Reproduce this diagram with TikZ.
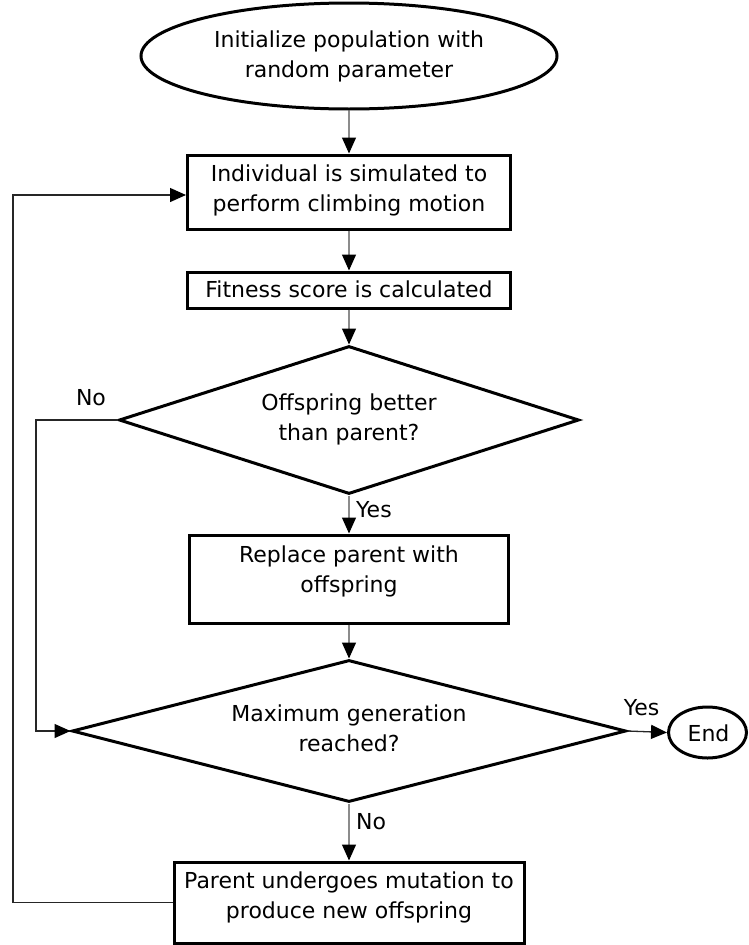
\documentclass[tikz,border=0pt]{standalone}
\usepackage{fontspec}
\setmainfont{DejaVu Sans}
\usetikzlibrary{shapes.geometric,arrows.meta}
\newcommand\Ls{\rule[-6pt]{0pt}{23pt}}
\begin{document}
\begin{tikzpicture}[x=1pt,y=-1pt,
 shapeline/.style={draw=black,line width=3pt,inner sep=0pt},
 boxnode/.style={shapeline,rectangle},
 ellnode/.style={shapeline,ellipse},
 dianode/.style={shapeline,diamond,aspect=3},
 txt/.style={inner sep=0pt,align=center,font=\fontsize{22pt}{30pt}\selectfont},
 flow/.style={draw=black!45,line width=1.3pt,-{Triangle[width=14pt,length=16pt,color=black]}},
 loopline/.style={draw=black!85,line width=1.3pt},
 loopflow/.style={loopline,-{Triangle[width=14pt,length=16pt,color=black]}},
]
\useasboundingbox (0,0) rectangle (748,945);
% shapes
\node[ellnode,minimum width=416pt,minimum height=106pt] (start) at (349,56) {};
\node[boxnode,minimum width=323pt,minimum height=74pt] (b1) at (349,192) {};
\node[boxnode,minimum width=323pt,minimum height=36pt] (b2) at (349,290) {};
\node[dianode,minimum width=460pt,minimum height=148pt] (d1) at (349,420) {};
\node[boxnode,minimum width=319pt,minimum height=88pt] (b3) at (349,579) {};
\node[dianode,minimum width=554pt,minimum height=142pt] (d2) at (349,731) {};
\node[boxnode,minimum width=350pt,minimum height=81pt] (b4) at (349,902.5) {};
\node[ellnode,minimum width=78pt,minimum height=51pt] (end) at (707.5,732.5) {};
% texts
\node[txt] (startt) at (349,56.5) {\Ls Initialize population with\\\Ls random parameter};
\node[txt] (b1t) at (349,190.5) {\Ls Individual is simulated to\\\Ls perform climbing motion};
\node[txt] (b2t) at (349,291.5) {\Ls Fitness score is calculated};
\node[txt] (d1t) at (349,419.5) {\Ls Offspring better\\\Ls than parent?};
\node[txt] (b3t) at (349,571.5) {\Ls Replace parent with\\\Ls offspring};
\node[txt] (d2t) at (349,731) {\Ls Maximum generation\\\Ls reached?};
\node[txt] (b4t) at (349,897.5) {\Ls Parent undergoes mutation to\\\Ls produce new offspring};
\node[txt] (endt) at (708.5,736) {\Ls End};
% labels
\node[txt] (no1) at (91,399.5) {\Ls No};
\node[txt,anchor=west] (yes1) at (356,511.5) {\Ls Yes};
\node[txt] (yes2) at (641.5,709.5) {\Ls Yes};
\node[txt,anchor=west] (no2) at (356,823.5) {\Ls No};
% connectors
\draw[flow] (start.south) -- (b1.north);
\draw[flow] (b1.south) -- (b2.north);
\draw[flow] (b2.south) -- (d1.north);
\draw[flow] (d1.south) -- (b3.north);
\draw[flow] (b3.south) -- (d2.north);
\draw[flow] (d2.south) -- (b4.north);
\draw[loopflow] (d2.east) -- (end.west);
\coordinate (noL) at (36,0);
\coordinate (loopL) at (13,0);
\draw[loopflow] (d1.west) -- (d1.west -| noL) -- (noL |- d2.west) -- (d2.west);
\coordinate (b1in) at ([yshift=-3pt]b1.west);
\draw[loopflow] (b4.west) -- (b4.west -| loopL) -- (loopL |- b1in) -- (b1in);
\end{tikzpicture}
\end{document}
